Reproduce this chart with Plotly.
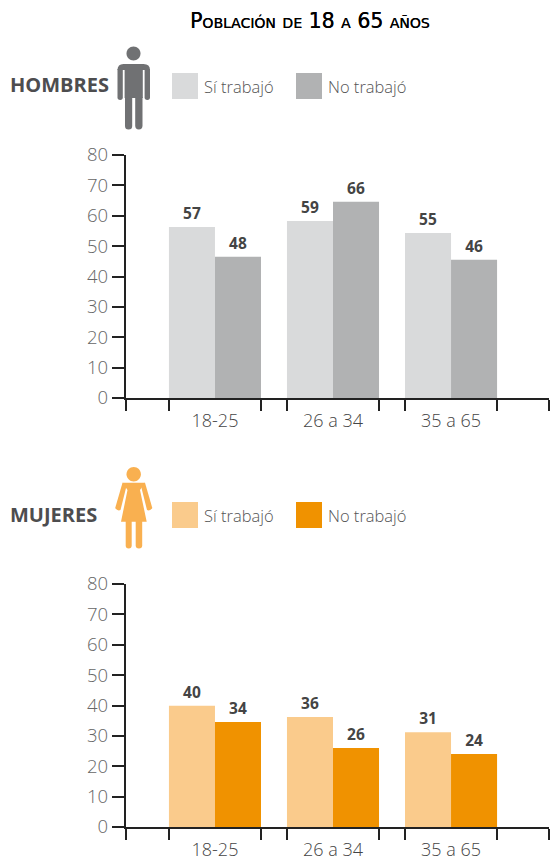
import plotly.graph_objects as go

W, H = 550, 861

# --- data ---
categories = ["18-25", "26 a 34", "35 a 65"]
hombres_si = [56.3, 58.3, 54.3]
hombres_no = [46.5, 64.6, 45.5]
hombres_si_labels = ["57", "59", "55"]
hombres_no_labels = ["48", "66", "46"]
mujeres_si = [39.9, 36.2, 31.2]
mujeres_no = [34.6, 26.0, 24.0]
mujeres_si_labels = ["40", "36", "31"]
mujeres_no_labels = ["34", "26", "24"]
y_ticks = [0, 10, 20, 30, 40, 50, 60, 70, 80]

# --- styling ---
C_H_SI, C_H_NO = "#d9dadb", "#b1b2b3"
C_M_SI, C_M_NO = "#facb8c", "#f09200"
C_ICON_H, C_ICON_M = "#707173", "#f9b050"
FONT = "Open Sans"
C_AXIS = "#222222"
BAR_W = 0.39
positions = [0, 1, 2]
edge_ticks = [-0.758] + [p + s * BAR_W for p in positions for s in (-1, 1)] + [2.83]


def px(x):
    return x / W


def py(y):
    return 1 - y / H


def path(*cmds):
    """Build an SVG path from pixel coordinates on the page."""
    out = []
    for c in cmds:
        if c == "Z":
            out.append("Z")
        else:
            head, *pts = c
            out.append(head + " ".join(f"{px(pts[i]):.5f},{py(pts[i + 1]):.5f}" for i in range(0, len(pts), 2)))
    return " ".join(out)


def circle(cx, cy, r):
    k = r * 0.5523
    return path(("M", cx - r, cy),
                ("C", cx - r, cy - k, cx - k, cy - r, cx, cy - r),
                ("C", cx + k, cy - r, cx + r, cy - k, cx + r, cy),
                ("C", cx + r, cy + k, cx + k, cy + r, cx, cy + r),
                ("C", cx - k, cy + r, cx - r, cy + k, cx - r, cy), "Z")


def limb(x0, x1, y0, y1):
    """Vertical bar with a rounded bottom."""
    m, r = (x0 + x1) / 2, (x1 - x0) / 2
    return path(("M", x0, y0), ("L", x0, y1 - r), ("Q", x0, y1, m, y1), ("Q", x1, y1, x1, y1 - r), ("L", x1, y0), "Z")


man = [
    circle(133.5, 53.5, 7),
    path(("M", 117.5, 70), ("Q", 117.5, 64, 123.5, 64), ("L", 143.5, 64), ("Q", 150, 64, 150, 70),
         ("L", 150, 70), ("L", 144, 70), ("L", 142.5, 70), ("L", 124.5, 70), "Z"),
    limb(117.5, 122.8, 69, 100),
    limb(144.6, 150, 69, 100),
    path(("M", 124.6, 66), ("L", 142.8, 66), ("L", 142.8, 98), ("L", 124.6, 98), "Z"),
    limb(125, 132.2, 97, 129.5),
    limb(135.2, 142.5, 97, 129.5),
]
woman = [
    circle(133.7, 474.3, 7.2),
    # shoulders + dress
    path(("M", 122.5, 482.7), ("L", 145, 482.7), ("L", 140, 490), ("L", 146.7, 521.7), ("L", 121, 521.7), ("L", 127.5, 490), "Z"),
    # arms
    path(("M", 122.5, 482.7), ("L", 127, 484), ("L", 120.5, 510), ("Q", 117.5, 511.5, 115.2, 508), "Z"),
    path(("M", 145, 482.7), ("L", 140.5, 484), ("L", 147, 510), ("Q", 150, 511.5, 152.3, 508), "Z"),
    limb(125.7, 131.7, 521, 548.5),
    limb(135.7, 142.2, 521, 548.5),
]


def icon(paths, color):
    return [dict(type="path", xref="paper", yref="paper", path=p, fillcolor=color, line_width=0) for p in paths]


def swatch(x0, y0, color):
    return dict(type="rect", xref="paper", yref="paper", x0=px(x0), x1=px(x0 + 26), y0=py(y0 + 26), y1=py(y0),
                fillcolor=color, line_width=0)


def note(x, y, text, size, color, anchor="left", **font_kw):
    return dict(xref="paper", yref="paper", x=px(x), y=py(y), text=text, showarrow=False, xanchor=anchor,
                yanchor="middle", font=dict(family=FONT, size=size, color=color, **font_kw))


fig = go.Figure()


def add_bars(vals, labels, color, name, ax):
    fig.add_trace(go.Bar(x=positions, y=vals, text=labels, name=name, marker=dict(color=color, line_width=0),
                         textposition="outside", cliponaxis=False, showlegend=False,
                         textfont=dict(family=FONT, size=15.5, color="#444444", weight="bold"),
                         xaxis=f"x{ax}", yaxis=f"y{ax}"))


add_bars(hombres_si, hombres_si_labels, C_H_SI, "Sí trabajó", "")
add_bars(hombres_no, hombres_no_labels, C_H_NO, "No trabajó", "")
add_bars(mujeres_si, mujeres_si_labels, C_M_SI, "Sí trabajó", 2)
add_bars(mujeres_no, mujeres_no_labels, C_M_NO, "No trabajó", 2)


def xaxis(anchor):
    return dict(domain=[px(125.5), px(549)], range=[-0.758, 2.83], anchor=anchor, type="linear", automargin=False,
                tickvals=positions, ticktext=categories, ticks="outside", ticklen=6, tickcolor="rgba(0,0,0,0)",
                tickfont=dict(family=FONT, size=18, color="#444444", weight=300),
                showgrid=False, zeroline=False, showline=True, linecolor=C_AXIS, linewidth=1.5,
                minor=dict(tickvals=edge_ticks, ticks="outside", ticklen=11, tickcolor=C_AXIS, tickwidth=1.5, showgrid=False))


def yaxis(anchor, top, bottom):
    return dict(domain=[py(bottom), py(top)], range=[0, 80], anchor=anchor, tickvals=y_ticks, ticks="outside", ticklen=12,
                automargin=False, tickcolor=C_AXIS, tickwidth=1.5,
                tickfont=dict(family=FONT, size=18.5, color="#666666", weight=300),
                showgrid=False, zeroline=False, showline=True, linecolor=C_AXIS, linewidth=1.5)


fig.update_layout(
    width=W, height=H, autosize=False, margin=dict(l=0, r=0, t=0, b=0, autoexpand=False),
    paper_bgcolor="white", plot_bgcolor="white", barmode="group", bargap=0.22, bargroupgap=0,
    xaxis=xaxis("y"), yaxis=yaxis("x", 155, 398),
    xaxis2=xaxis("y2"), yaxis2=yaxis("x2", 584, 827),
    shapes=icon(man, C_ICON_H) + icon(woman, C_ICON_M) + [
        swatch(172, 73, C_H_SI), swatch(296, 73, C_H_NO),
        swatch(172, 502, C_M_SI), swatch(296, 502, C_M_NO),
    ],
    annotations=[
        dict(xref="paper", yref="paper", x=px(310), y=py(20.5), text="Población de 18 a 65 años", showarrow=False,
             xanchor="center", yanchor="middle",
             font=dict(family="DejaVu Sans", size=20.5, color="#000000", variant="small-caps",
                       shadow="0.25px 0 0 #000000")),
        note(8, 85, "HOMBRES", 20, "#4d4d4f", weight="bold"),
        note(8, 514, "MUJERES", 20, "#4d4d4f", weight="bold"),
        note(202, 86.5, "Sí trabajó", 16.5, "#555555", weight=300),
        note(326, 86.5, "No trabajó", 16.5, "#555555", weight=300),
        note(202, 515.5, "Sí trabajó", 16.5, "#555555", weight=300),
        note(326, 515.5, "No trabajó", 16.5, "#555555", weight=300),
    ],
)

fig.write_html("out.html", config=dict(displayModeBar=False),
               post_script="document.body.style.margin='0';")
